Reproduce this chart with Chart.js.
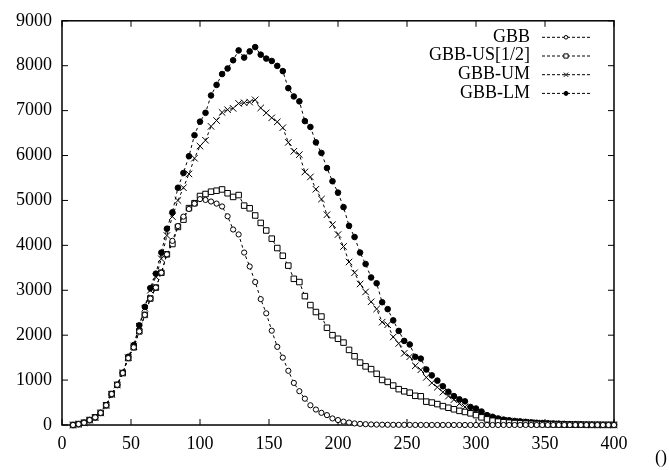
<!DOCTYPE html>
<html><head><meta charset="utf-8">
<script src="https://cdn.jsdelivr.net/npm/chart.js@4.4.1/dist/chart.umd.min.js"></script>
<style>html,body{margin:0;padding:0;background:#fff;}#wrap{width:669px;height:470px;}</style>
</head><body><div id="wrap"><canvas id="c" width="669" height="470"></canvas></div>
<script>
const xValues = [8,12,16,20,24,28,32,36,40,44,48,52,56,60,64,68,72,76,80,84,88,92,96,100,104,108,112,116,120,124,128,132,136,140,144,148,152,156,160,164,168,172,176,180,184,188,192,196,200,204,208,212,216,220,224,228,232,236,240,244,248,252,256,260,264,268,272,276,280,284,288,292,296,300,304,308,312,316,320,324,328,332,336,340,344,348,352,356,360,364,368,372,376,380,384,388,392,396,400];
const seriesNames = ["GBB","GBB-US[1/2]","GBB-UM","GBB-LM"];
const gbb = [0,20,50,110,170,270,440,690,895,1157,1490,1730,2085,2452,2816,3060,3390,3800,4100,4430,4640,4810,4930,5030,5011,4976,4930,4866,4647,4353,4243,3840,3530,3183,2803,2487,2100,1741,1500,1207,937,753,586,439,344,271,220,146,110,75,55,35,25,18,12,9,7,5,4,3,2,2,1,1,1,1,1,1,1,0,0,0,0,0,0,0,0,0,0,0,0,0,0,0,0,0,0,0,0,0,0,0,0,0,0,0,0,0,0];
const gbbUS = [0,20,50,110,170,270,440,690,895,1157,1490,1730,2085,2452,2816,3060,3390,3800,4030,4410,4573,4829,4939,5099,5143,5195,5217,5245,5160,5078,5120,4885,4825,4665,4500,4331,4149,3940,3768,3549,3255,3183,2870,2670,2515,2415,2165,2000,1920,1835,1672,1530,1390,1305,1244,1140,1003,960,878,798,750,720,650,640,520,500,465,420,384,350,315,290,260,220,170,125,95,75,62,52,44,37,31,26,22,18,15,12,10,8,7,6,5,4,3,3,2,2,2];
const gbbUM = [0,20,50,110,170,270,440,680,890,1160,1500,1760,2200,2600,3000,3300,3700,4220,4640,5000,5283,5590,5940,6210,6340,6650,6780,6960,7020,7050,7160,7175,7190,7240,7060,6950,6840,6750,6620,6293,6095,6021,5634,5524,5250,5030,4682,4462,4240,3975,3630,3390,3140,2963,2744,2584,2290,2232,1960,1815,1596,1521,1317,1229,1060,937,841,731,643,564,476,402,351,279,230,185,150,125,105,90,78,68,60,50,43,36,30,26,22,18,15,12,10,8,6,5,4,3,3];
const gbbLM = [0,20,50,110,170,270,440,680,890,1160,1520,1780,2220,2630,3050,3370,3840,4370,4735,5283,5612,5985,6453,6754,6951,7338,7573,7814,7939,8121,8341,8181,8319,8414,8246,8159,8106,7996,7880,7500,7316,7206,6767,6636,6293,6058,5722,5428,5174,4851,4435,4186,3840,3585,3285,3156,2733,2580,2330,2095,1873,1793,1518,1478,1237,1105,988,863,740,643,571,527,402,367,300,219,182,146,120,105,90,80,70,60,50,45,40,35,30,25,20,18,15,12,10,8,6,5,4];
const xTickValues = [0,50,100,150,200,250,300,350,400];
const yTickValues = [0,1000,2000,3000,4000,5000,6000,7000,8000,9000];
const xAxisTitle = "()";

const FONT = '"Liberation Serif","Times New Roman",serif';
function pts(arr){ return xValues.map((x,i)=>({x:x,y:arr[i]})); }
const styles = [
  {pointStyle:'circle', radius:2.6, bg:'#fff', lr:1.8},
  {pointStyle:'rect', radius:3.9, bg:'#fff', lr:3},
  {pointStyle:'crossRot', radius:4.6, bg:'#000', lr:3},
  {pointStyle:'circle', radius:2.8, bg:'#000', lr:2}
];
const allSeries = [gbb, gbbUS, gbbUM, gbbLM];
const datasets = allSeries.map((s,i)=>({
  label: seriesNames[i],
  data: pts(s),
  borderColor:'#000', borderWidth:1, borderDash:[3,3],
  pointStyle: styles[i].pointStyle, pointRadius: styles[i].radius,
  pointBackgroundColor: styles[i].bg, pointBorderColor:'#000', pointBorderWidth:1,
  pointHoverRadius: styles[i].radius, fill:false, tension:0, clip:false
}));

const framePlugin = {
  id:'frame',
  beforeDatasetsDraw(chart){
    const {ctx, chartArea:a, scales:{x,y}} = chart;
    ctx.save();
    ctx.strokeStyle='#000';
    ctx.lineWidth=1.5;
    ctx.strokeRect(a.left, a.top, a.right-a.left, a.bottom-a.top);
    ctx.lineWidth=1;
    ctx.beginPath();
    xTickValues.forEach(v=>{
      const px = x.getPixelForValue(v);
      ctx.moveTo(px, a.bottom); ctx.lineTo(px, a.bottom-6);
      ctx.moveTo(px, a.top); ctx.lineTo(px, a.top+6);
    });
    yTickValues.forEach(v=>{
      const py = y.getPixelForValue(v);
      ctx.moveTo(a.left, py); ctx.lineTo(a.left+6, py);
      ctx.moveTo(a.right, py); ctx.lineTo(a.right-6, py);
    });
    ctx.stroke();
    ctx.restore();
  },
  afterDraw(chart){
    const {ctx, chartArea:a} = chart;
    ctx.save();
    ctx.fillStyle='#000';
    ctx.font='18px '+FONT;
    ctx.textBaseline='middle';
    chart.data.datasets.forEach((ds,i)=>{
      const yy = a.top + 16 + i*18.7;
      ctx.textAlign='right';
      ctx.fillText(ds.label, a.right-84, yy);
      ctx.save();
      ctx.strokeStyle='#000'; ctx.lineWidth=1; ctx.setLineDash([3,2]);
      ctx.beginPath(); ctx.moveTo(a.right-72, yy+0.5); ctx.lineTo(a.right-24, yy+0.5); ctx.stroke();
      ctx.restore();
      ctx.save();
      ctx.strokeStyle='#000'; ctx.fillStyle=styles[i].bg; ctx.lineWidth=1;
      Chart.helpers.drawPoint(ctx, {pointStyle:styles[i].pointStyle, radius:styles[i].lr, borderWidth:1, rotation:0}, a.right-48, yy+0.5);
      ctx.restore();
    });
    ctx.textAlign='center';
    ctx.fillText(xAxisTitle, a.right+47, a.bottom+33);
    ctx.restore();
  }
};

new Chart(document.getElementById('c'), {
  type:'line',
  data:{datasets:datasets},
  options:{
    responsive:false, devicePixelRatio:1, animation:false,
    layout:{padding:{top:15,right:55,left:0,bottom:0}},
    plugins:{legend:{display:false}, tooltip:{enabled:false}},
    scales:{
      x:{type:'linear', min:0, max:400,
        afterBuildTicks(s){ s.ticks = xTickValues.map(v=>({value:v})); },
        afterFit(s){ s.height=45; },
        grid:{display:false, drawTicks:false}, border:{display:false},
        ticks:{color:'#000', font:{family:FONT, size:18}, padding:8, maxRotation:0, autoSkip:false, callback:v=>String(v)}
      },
      y:{type:'linear', min:0, max:9000,
        afterBuildTicks(s){ s.ticks = yTickValues.map(v=>({value:v})); },
        afterFit(s){ s.width=62; },
        grid:{display:false, drawTicks:false}, border:{display:false},
        ticks:{color:'#000', font:{family:FONT, size:18}, padding:10, autoSkip:false, callback:v=>String(v)}
      }
    }
  },
  plugins:[framePlugin]
});
</script></body></html>
